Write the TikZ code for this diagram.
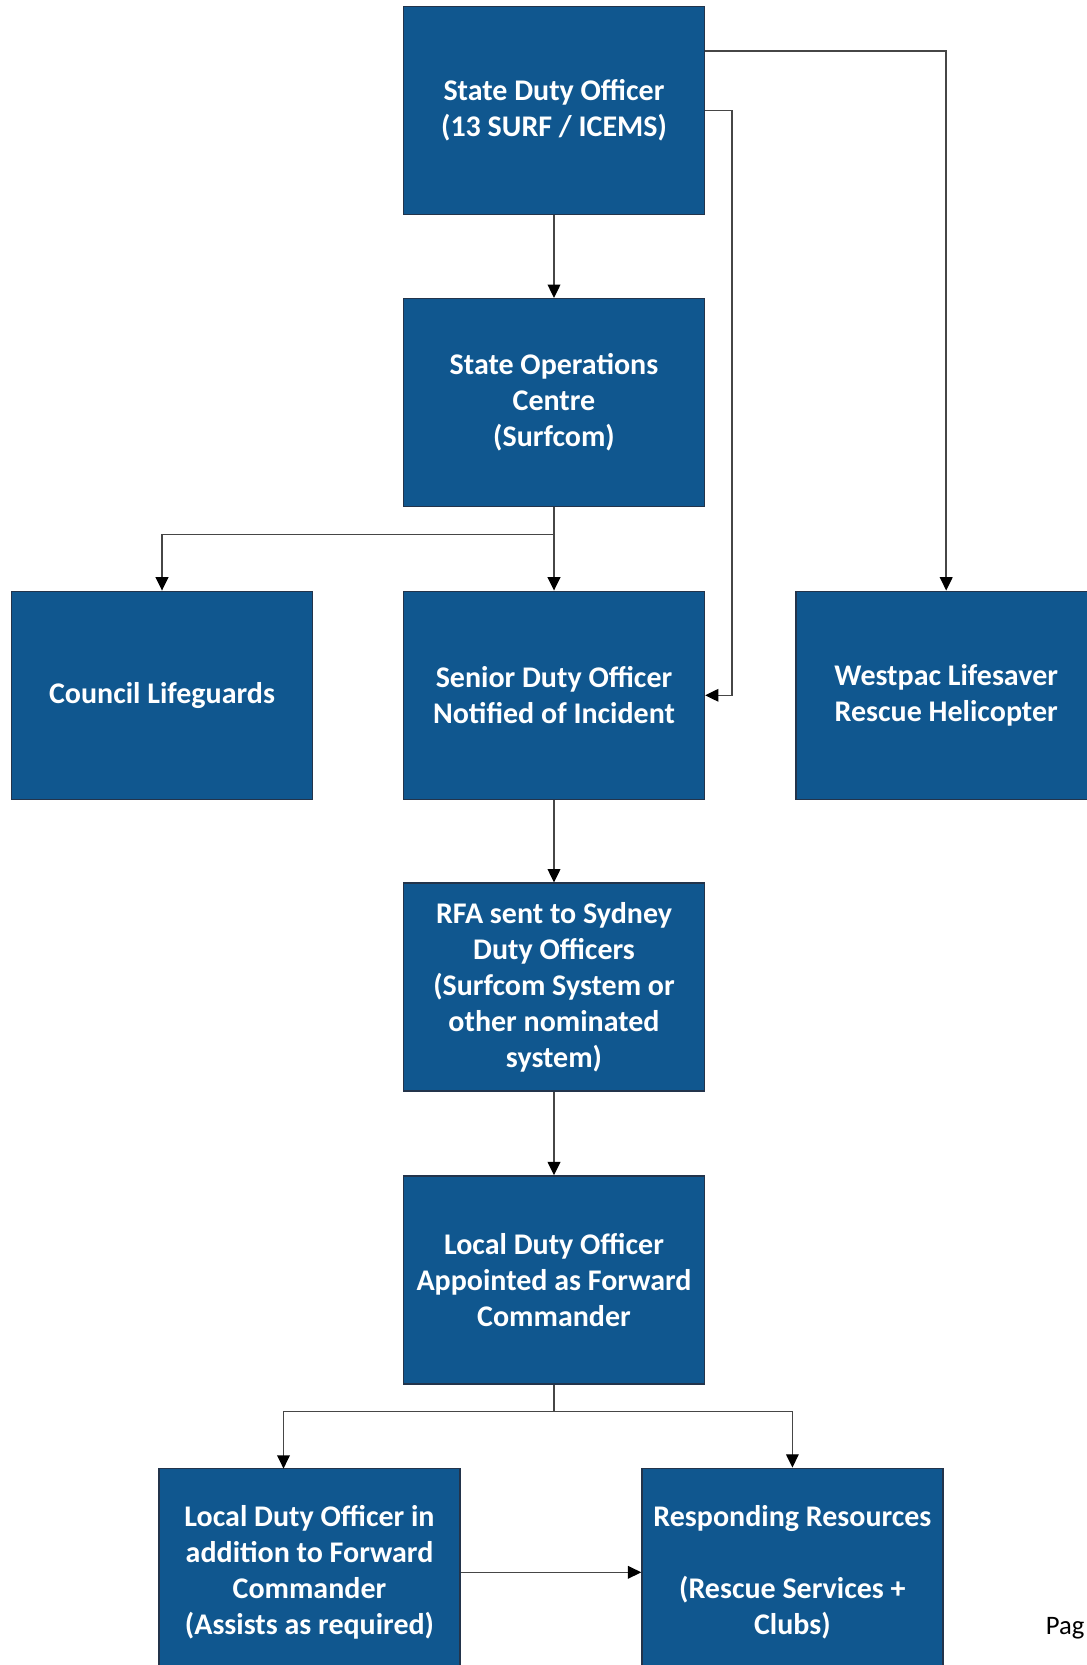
\documentclass[tikz,border=0pt]{standalone}
\usepackage{fontspec}
\setmainfont{Carlito}
\usetikzlibrary{arrows.meta}
\definecolor{boxblue}{RGB}{16,87,143}
\definecolor{boxedge}{RGB}{35,52,75}
\definecolor{linegray}{RGB}{70,70,70}
\tikzset{
  box/.style={draw=boxedge, line width=1.1pt, fill=boxblue, text=white,
    minimum width=225.6pt, minimum height=156pt, inner sep=0pt, align=center,
    font=\bfseries\fontsize{22.5pt}{27pt}\selectfont},
  conn/.style={draw=linegray, line width=1.1pt, -{Triangle[length=10pt,width=9.5pt,black]}},
  plain/.style={draw=linegray, line width=1.1pt},
  pagetext/.style={font=\fontsize{20pt}{24pt}\selectfont, inner sep=0pt}
}
\begin{document}
\begin{tikzpicture}[x=0.75pt,y=-0.75pt]
\useasboundingbox (0,0) rectangle (1087,1665);
\clip (0,0) rectangle (1087,1665);
\node[box] (sdo) at (554,110.4) {State Duty Officer\\(13 SURF / ICEMS)};
\node[box] (soc) at (554,402.7) {State Operations\\Centre\\(Surfcom)};
\node[box] (council) at (162,695.3) {Council Lifeguards};
\node[box] (senior) at (554,695.3) {Senior Duty Officer\\Notified of Incident};
\node[box] (heli) at (946.2,695.3) {Westpac Lifesaver\\Rescue Helicopter};
\node[box] (rfa) at (554,987.2) {RFA sent to Sydney\\Duty Officers\\(Surfcom System or\\other nominated\\system)};
\node[box] (ldo) at (554,1280) {Local Duty Officer\\Appointed as Forward\\Commander};
\node[box] (bl) at (309.5,1572.3) {Local Duty Officer in\\addition to Forward\\Commander\\(Assists as required)};
\node[box] (br) at (792.4,1572.3) {Responding Resources\\[27pt](Rescue Services +\\Clubs)};
\node[pagetext, anchor=base west] (pg) at (1045.5,1634) {Pag};
\coordinate (j1) at (554,534.6);
\coordinate (hc) at (946.3,50.9);
\coordinate (r1) at (732,110.4);
\coordinate (j2) at (554,1411.7);
\coordinate (bltop) at (283.5,1468.6);
\draw[conn] (sdo.south) -- (soc.north);
\draw[conn] (soc.south) -- (senior.north);
\draw[conn] (j1) -| (council.north);
\draw[conn] (sdo.east |- hc) -| (heli.north);
\draw[conn] (sdo.east) -- (r1) |- (senior.east);
\draw[conn] (senior.south) -- (rfa.north);
\draw[conn] (rfa.south) -- (ldo.north);
\draw[plain] (ldo.south) -- (j2);
\draw[conn] (j2) -| (bltop);
\draw[conn] (j2) -| (br.north);
\draw[conn] (bl.east) -- (br.west);
\end{tikzpicture}
\end{document}
